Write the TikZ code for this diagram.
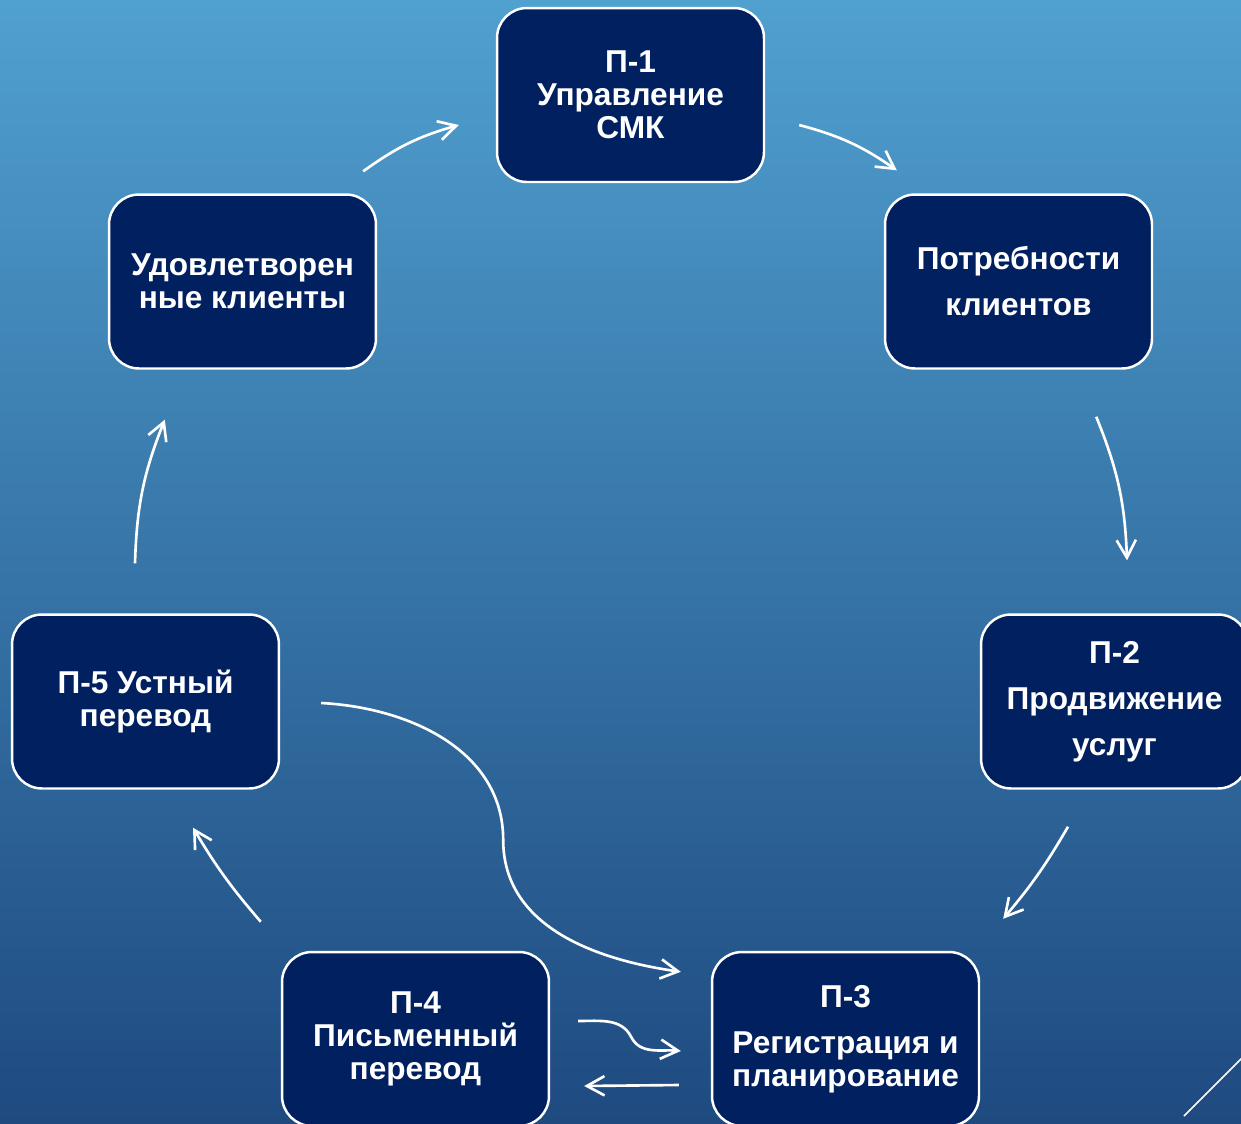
\documentclass[tikz,border=0pt]{standalone}
\usepackage{fontspec}
\setmainfont{Liberation Sans}
\usetikzlibrary{arrows.meta}
\definecolor{bgtop}{RGB}{80,160,208}
\definecolor{bgbot}{RGB}{30,74,128}
\definecolor{navy}{HTML}{002060}

\begin{document}
\begin{tikzpicture}[
    x=0.02cm,
    y=0.02cm,
    box/.style = {
      shape=rectangle,
      rounded corners=0.6cm,
      minimum width=5.34cm,
      minimum height=3.48cm,
      inner sep=2pt,
      fill=navy,
      draw=white,
      line width=1.4pt,
      text=white,
      align=center,
      font=\fontsize{18}{18.8}\selectfont\bfseries
    },
    widebox/.style = {
      box,
      font=\fontsize{18}{26.2}\selectfont\bfseries
    },
    arr/.style = {
      draw=white,
      line width=1.5pt,
      -{Straight Barb[length=10pt,width=11pt]}
    }
  ]

  \useasboundingbox (0,0) rectangle (1241,-1123);
  \clip (0,0) rectangle (1241,-1123);
  \shade[top color=bgtop, bottom color=bgbot] (0,0) rectangle (1241,-1123);

  \node[box] (p1) at (630.5,-95) {П-1\\Управление\\СМК};
  \node[widebox] (needs) at (1018.5,-281.5) {Потребности\\клиентов};
  \node[widebox] (p2) at (1114.5,-701.5) {П-2\\Продвижение\\услуг};
  \node[box] (p3) at (845.5,-1039) {П-3\\[7.4pt]Регистрация и\\планирование};
  \node[box] (p4) at (415.5,-1039) {П-4\\Письменный\\перевод};
  \node[box] (p5) at (145.5,-701.5) {П-5 Устный\\перевод};
  \node[box] (happy) at (242.5,-281.5) {Удовлетворен\\ные клиенты};

  \draw[arr] ([shift={(-14,22)}]happy.north east) to[bend left=10] ([shift={(-37,-30)}]p1.west);
  \draw[arr] ([shift={(34,-30)}]p1.east) to[bend left=10] ([shift={(13,23)}]needs.north west);
  \draw[arr] ([shift={(-57,-47)}]needs.south east) to[bend left=10] ([shift={(12.5,53)}]p2.north);
  \draw[arr] ([shift={(-46.5,-37)}]p2.south) to[bend left=5] ([shift={(23,32)}]p3.north east);
  \draw[arr] ([shift={(-32,-46)}]p3.west) -- ([shift={(34,-47)}]p4.east);
  \draw[arr] ([shift={(28,18)}]p4.east) to[out=0,in=117] ++(53,-16)
    to[out=-63,in=175] ([shift={(-30,-12)}]p3.west);
  \draw[arr] ([shift={(41,-1.5)}]p5.east) to[out=-3,in=90] ++(182,-137)
    to[out=-90,in=172] ([shift={(-30,-21)}]p3.north west);
  \draw[arr] ([shift={(-20,29)}]p4.north west) to[bend left=5] ([shift={(47.5,-38)}]p5.south);
  \draw[arr] ([shift={(-10.5,50)}]p5.north) to[bend left=10] ([shift={(57,-50)}]happy.south west);

  \draw[white, line width=0.9pt] (1184,-1116) -- (1264,-1036);
\end{tikzpicture}
\end{document}
